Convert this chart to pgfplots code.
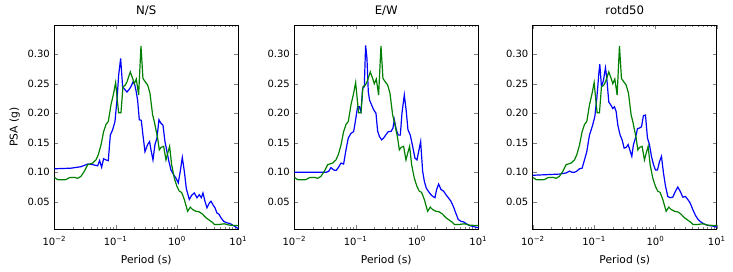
\documentclass[border=0pt]{standalone}
\usepackage{pgfplots}
\pgfplotsset{compat=1.18}
\usepackage{pgfplotstable}
\usepackage{fontspec}
\setmainfont{DejaVu Sans}
\definecolor{mplblue}{rgb}{0,0,1}
\definecolor{mplgreen}{rgb}{0,0.5,0}

\pgfplotstableread{
T V
0.0100 0.0915
0.01133 0.0876
0.01284 0.0875
0.0155 0.0876
0.01756 0.0910
0.0212 0.0915
0.0240 0.0898
0.0272 0.0932
0.0308 0.1016
0.0350 0.1130
0.0422 0.1157
0.0478 0.1210
0.0522 0.1300
0.0577 0.1460
0.0637 0.1690
0.0696 0.1810
0.0759 0.1860
0.0839 0.2140
0.0928 0.2340
0.1000 0.2520
0.1078 0.2170
0.1119 0.2010
0.1222 0.2010
0.1317 0.2450
0.1420 0.2470
0.1530 0.2530
0.1734 0.2700
0.1894 0.2590
0.2015 0.2500
0.2173 0.2580
0.2371 0.2310
0.2588 0.3140
0.2790 0.2590
0.3008 0.2540
0.3325 0.2480
0.3630 0.2340
0.4012 0.1970
0.4270 0.1860
0.4546 0.1720
0.4840 0.1580
0.5152 0.1380
0.5485 0.1420
0.6061 0.1440
0.6618 0.1210
0.7045 0.1320
0.7592 0.1440
0.8185 0.1130
0.9049 0.0900
1.000 0.0760
1.091 0.0680
1.191 0.0660
1.317 0.0540
1.492 0.0340
1.650 0.0410
1.801 0.0370
2.041 0.0340
2.313 0.0330
2.621 0.0290
2.971 0.0230
3.367 0.0190
3.815 0.0150
4.062 0.0117
4.900 0.0117
5.911 0.0128
7.134 0.0106
8.606 0.0100
10.00 0.0100
}\greendata

\pgfplotstableread{
T V
0.0100 0.1060
0.0187 0.1070
0.0272 0.1095
0.0350 0.1140
0.0422 0.1130
0.0509 0.1110
0.0548 0.1200
0.0591 0.1085
0.0637 0.1230
0.0696 0.1210
0.0759 0.1197
0.0819 0.1630
0.0894 0.1720
0.0975 0.1860
0.1051 0.2220
0.1119 0.2640
0.1207 0.2930
0.1300 0.2450
0.1420 0.2400
0.1530 0.2360
0.1650 0.2400
0.1778 0.2450
0.1917 0.2530
0.2041 0.2490
0.2145 0.2390
0.2284 0.2220
0.2432 0.1890
0.2621 0.1880
0.2790 0.1630
0.3008 0.1350
0.3325 0.1470
0.3584 0.1520
0.3768 0.1380
0.4062 0.1210
0.4379 0.1470
0.4721 0.1580
0.5087 0.1890
0.5485 0.1830
0.5912 0.1800
0.6373 0.1520
0.6871 0.1350
0.7407 0.1180
0.7984 0.1040
0.8826 0.0960
0.9632 0.0900
1.051 0.0820
1.133 0.1020
1.222 0.1250
1.317 0.1020
1.420 0.0725
1.589 0.0540
1.734 0.0610
1.917 0.0650
2.119 0.0570
2.313 0.0620
2.493 0.0570
2.654 0.0650
2.861 0.0510
3.084 0.0400
3.367 0.0480
3.584 0.0510
3.864 0.0450
4.165 0.0400
4.489 0.0310
4.840 0.0290
5.217 0.0230
5.767 0.0170
6.533 0.0145
7.407 0.0130
8.606 0.0089
10.00 0.0045
}\nsdata

\pgfplotstableread{
T V
0.0100 0.1000
0.0328 0.1000
0.0363 0.1016
0.0396 0.1080
0.0438 0.1040
0.0478 0.1030
0.0522 0.1080
0.0577 0.1157
0.0637 0.1140
0.0696 0.1380
0.0759 0.1580
0.0839 0.1660
0.0928 0.1690
0.0988 0.1860
0.1078 0.2110
0.1148 0.2110
0.1222 0.2030
0.1300 0.2420
0.1384 0.2450
0.1455 0.3150
0.1530 0.2930
0.1609 0.2360
0.1691 0.2220
0.1823 0.2140
0.1965 0.2060
0.2145 0.2000
0.2284 0.1700
0.2432 0.1610
0.2654 0.1550
0.2861 0.1580
0.3084 0.1630
0.3409 0.1690
0.3768 0.1690
0.4062 0.1750
0.4270 0.1890
0.4603 0.1720
0.4963 0.1630
0.5349 0.1630
0.5694 0.2000
0.6216 0.2310
0.6700 0.2030
0.7133 0.1720
0.7786 0.1630
0.8498 0.1440
0.9277 0.1240
1.000 0.1210
1.078 0.1380
1.148 0.1520
1.237 0.1020
1.317 0.0850
1.420 0.0730
1.530 0.0680
1.692 0.0620
1.823 0.0590
1.965 0.0570
2.093 0.0710
2.256 0.0800
2.462 0.0710
2.721 0.0680
2.971 0.0620
3.242 0.0570
3.584 0.0510
3.961 0.0410
4.325 0.0300
4.721 0.0200
5.217 0.0170
5.767 0.0160
6.373 0.0130
7.134 0.0100
8.606 0.0078
10.00 0.0060
}\ewdata

\pgfplotstableread{
T V
0.0100 0.0950
0.0272 0.0970
0.0350 0.0990
0.0396 0.1020
0.0438 0.1000
0.0478 0.1000
0.0522 0.1020
0.0577 0.1060
0.0637 0.1070
0.0696 0.1210
0.0759 0.1350
0.0839 0.1630
0.0928 0.1770
0.1025 0.1940
0.1105 0.2250
0.1192 0.2670
0.1237 0.2830
0.1317 0.2450
0.1420 0.2560
0.1530 0.2770
0.1609 0.2590
0.1734 0.2190
0.1869 0.2140
0.2015 0.2080
0.2145 0.2110
0.2284 0.2030
0.2432 0.1800
0.2654 0.1630
0.2861 0.1550
0.3084 0.1410
0.3325 0.1420
0.3584 0.1470
0.3816 0.1380
0.4113 0.1270
0.4379 0.1470
0.4721 0.1580
0.5087 0.1740
0.5485 0.1750
0.5912 0.1770
0.6373 0.1960
0.6871 0.1970
0.7407 0.1580
0.7984 0.1470
0.8606 0.1270
0.9277 0.1130
1.000 0.1040
1.078 0.1040
1.162 0.1180
1.253 0.1270
1.350 0.0990
1.455 0.0770
1.589 0.0590
1.734 0.0570
1.917 0.0580
2.119 0.0680
2.313 0.0750
2.525 0.0680
2.791 0.0580
3.084 0.0590
3.367 0.0540
3.675 0.0480
4.062 0.0370
4.489 0.0270
4.963 0.0200
5.485 0.0160
6.061 0.0130
7.134 0.0100
8.606 0.0090
10.00 0.0070
}\rotdata

\pgfplotsset{
  tick label style={font=\fontsize{10}{12}\selectfont, inner sep=0pt},
  title style={font=\fontsize{11.7}{13}\selectfont},
  label style={font=\fontsize{10.7}{12}\selectfont},
}

\begin{document}
\begin{tikzpicture}
\useasboundingbox (-54.3pt,-42.7pt) rectangle (678.7pt,229.3pt);
\begin{axis}[at={(0pt,0pt)}, title={N/S}, ylabel={PSA (g)},
    xmode=log, scale only axis, width=184pt, height=204pt,
    xmin=0.01, xmax=10, ymin=0.0035, ymax=0.349,
    xtick={0.01,0.1,1,10},
    xticklabels={10\textsuperscript{−2},10\textsuperscript{−1},10\textsuperscript{0},10\textsuperscript{1}},
    ytick={0.05,0.10,0.15,0.20,0.25,0.30},
    yticklabels={0.05,0.10,0.15,0.20,0.25,0.30},
    tick align=inside, major tick length=4pt, minor tick length=2pt,
    axis line style={line width=1pt},
    xticklabel shift=7pt, yticklabel shift=4.3pt,
    title style={at={(axis description cs:0.5,1)}, anchor=base, yshift=4.4pt},
    xlabel style={at={(axis description cs:0.5,0)}, anchor=base, yshift=-34.4pt},
    ylabel style={at={(axis description cs:-0.199,0.5)}, anchor=base},
    xlabel={Period (s)}]
\addplot[color=mplblue, line width=1.2pt] table[x=T, y=V] {\nsdata};
\addplot[color=mplgreen, line width=1.2pt] table[x=T, y=V] {\greendata};
\end{axis}
\begin{axis}[at={(240pt,0pt)}, title={E/W},
    xmode=log, scale only axis, width=184pt, height=204pt,
    xmin=0.01, xmax=10, ymin=0.0035, ymax=0.349,
    xtick={0.01,0.1,1,10},
    xticklabels={10\textsuperscript{−2},10\textsuperscript{−1},10\textsuperscript{0},10\textsuperscript{1}},
    ytick={0.05,0.10,0.15,0.20,0.25,0.30},
    yticklabels={0.05,0.10,0.15,0.20,0.25,0.30},
    tick align=inside, major tick length=4pt, minor tick length=2pt,
    axis line style={line width=1pt},
    xticklabel shift=7pt, yticklabel shift=4.3pt,
    title style={at={(axis description cs:0.5,1)}, anchor=base, yshift=4.4pt},
    xlabel style={at={(axis description cs:0.5,0)}, anchor=base, yshift=-34.4pt},
    xlabel={Period (s)}]
\addplot[color=mplblue, line width=1.2pt] table[x=T, y=V] {\ewdata};
\addplot[color=mplgreen, line width=1.2pt] table[x=T, y=V] {\greendata};
\end{axis}
\begin{axis}[at={(478.5pt,0pt)}, title={rotd50},
    xmode=log, scale only axis, width=184pt, height=204pt,
    xmin=0.01, xmax=10, ymin=0.0035, ymax=0.349,
    xtick={0.01,0.1,1,10},
    xticklabels={10\textsuperscript{−2},10\textsuperscript{−1},10\textsuperscript{0},10\textsuperscript{1}},
    ytick={0.05,0.10,0.15,0.20,0.25,0.30},
    yticklabels={0.05,0.10,0.15,0.20,0.25,0.30},
    tick align=inside, major tick length=4pt, minor tick length=2pt,
    axis line style={line width=1pt},
    xticklabel shift=7pt, yticklabel shift=4.3pt,
    title style={at={(axis description cs:0.5,1)}, anchor=base, yshift=4.4pt},
    xlabel style={at={(axis description cs:0.5,0)}, anchor=base, yshift=-34.4pt},
    xlabel={Period (s)}]
\addplot[color=mplblue, line width=1.2pt] table[x=T, y=V] {\rotdata};
\addplot[color=mplgreen, line width=1.2pt] table[x=T, y=V] {\greendata};
\end{axis}
\end{tikzpicture}
\end{document}
